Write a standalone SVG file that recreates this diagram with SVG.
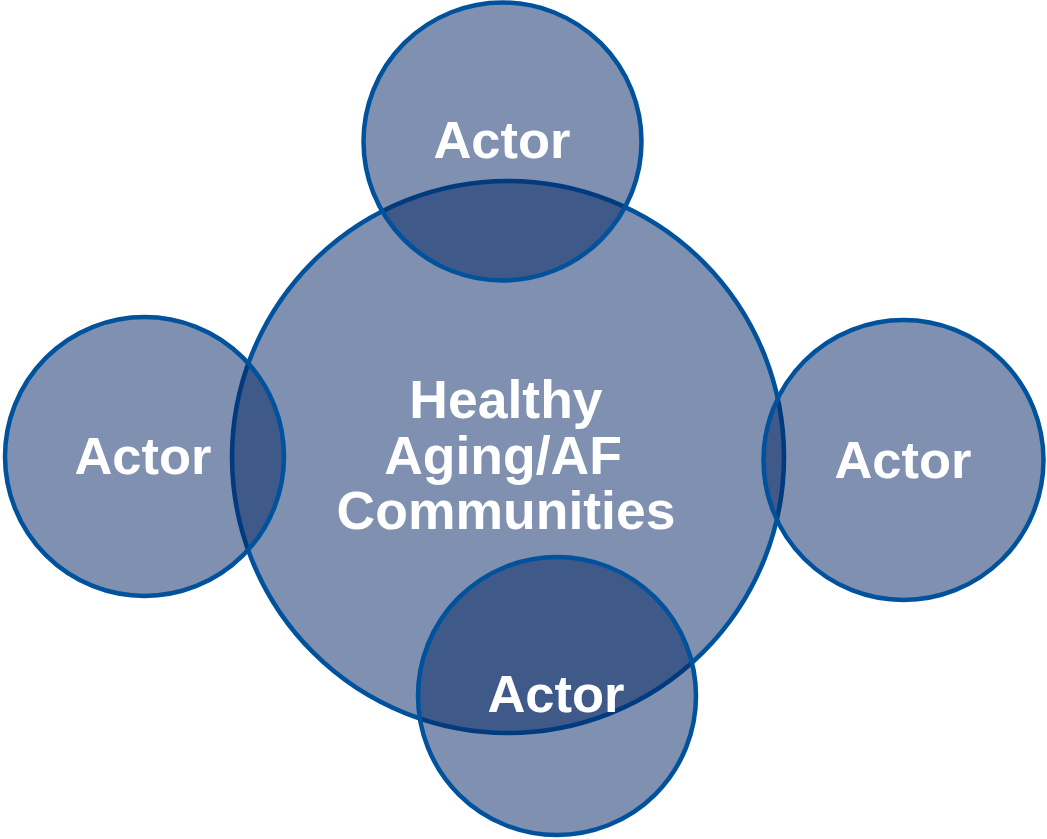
<svg xmlns="http://www.w3.org/2000/svg" width="1047" height="839" viewBox="0 0 1047 839">
  <style>
    .disc { fill: rgba(0, 33, 97, 0.5); stroke: #00529c; stroke-width: 4.5; }
    .label { fill: #ffffff; font-family: "Liberation Sans", Arial, sans-serif; font-weight: bold; text-anchor: middle; }
    .actor { font-size: 52.5px; }
    .core { font-size: 53.5px; }
  </style>
  <rect width="1047" height="839" fill="#ffffff"/>
  <!-- central theme -->
  <g id="center">
    <circle class="disc" cx="508" cy="457" r="276"/>
    <text class="label core" x="506" y="418">Healthy</text>
    <text class="label core" x="503" y="474">Aging/AF</text>
    <text class="label core" x="506" y="529">Communities</text>
  </g>
  <!-- surrounding actors, drawn over the centre -->
  <g id="actor-top">
    <circle class="disc" cx="502.5" cy="141.5" r="139"/>
    <text class="label actor" x="502" y="158">Actor</text>
  </g>
  <g id="actor-left">
    <circle class="disc" cx="144.5" cy="456.5" r="139.5"/>
    <text class="label actor" x="143" y="474">Actor</text>
  </g>
  <g id="actor-right">
    <circle class="disc" cx="903.5" cy="460" r="140"/>
    <text class="label actor" x="903" y="478">Actor</text>
  </g>
  <g id="actor-bottom">
    <circle class="disc" cx="557" cy="696" r="139"/>
    <text class="label actor" x="556" y="712">Actor</text>
  </g>
  <g id="connectors"></g>
</svg>
